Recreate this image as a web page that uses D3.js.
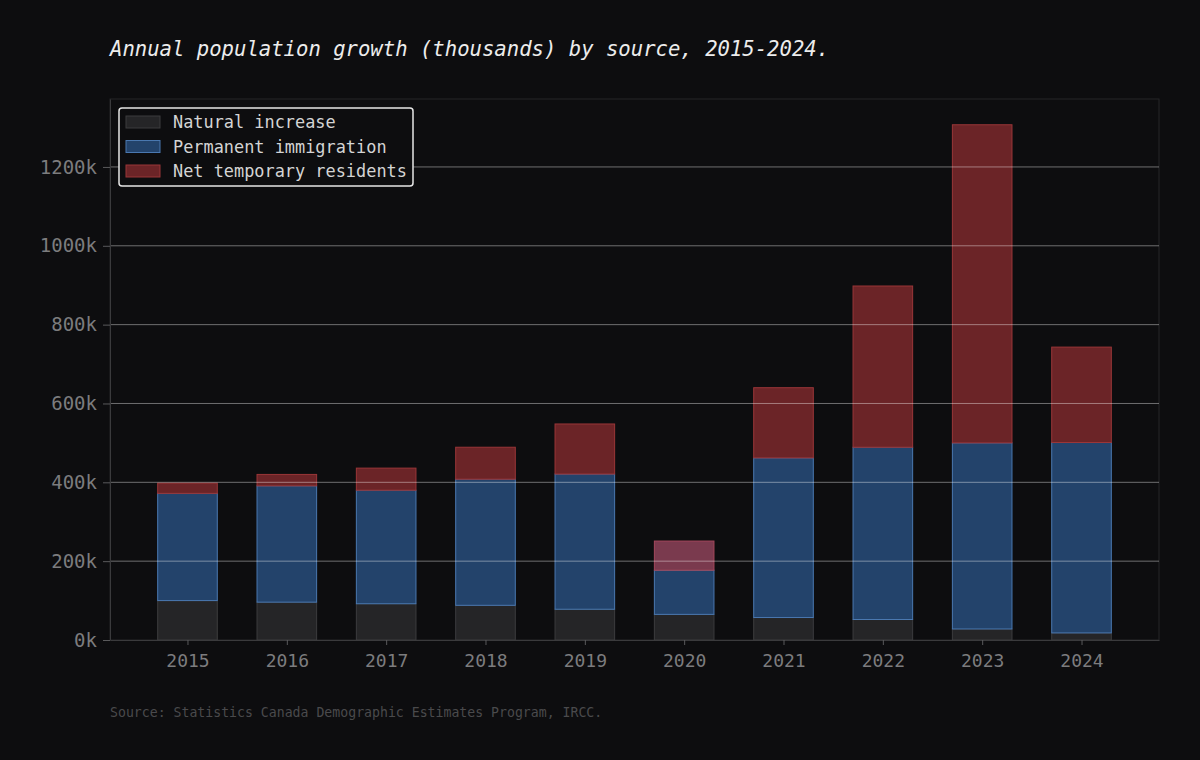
<!DOCTYPE html>
<html>
<head>
<meta charset="utf-8">
<script src="https://cdn.jsdelivr.net/npm/d3@7"></script>
<style>
  body { margin: 0; background: #0d0d0f; }
  svg { display: block; }
</style>
</head>
<body>
<svg id="chart" width="1200" height="760"></svg>
<script>
  var years = ["2015", "2016", "2017", "2018", "2019", "2020", "2021", "2022", "2023", "2024"];
  var naturalIncrease = [100, 96, 92, 88, 78, 65, 57, 52, 28, 18];
  var permanentImmigration = [272, 295, 288, 320, 343, 112, 405, 437, 472, 483];
  var netTemporary = [26, 29, 56, 81, 127, 74, 178, 409, 807, 242];
  var seriesNames = ["Natural increase", "Permanent immigration", "Net temporary residents"];
  var yTicks = [0, 200, 400, 600, 800, 1000, 1200];

  var fills = ["#252527", "#23436b", "#6b2427"];
  var edges = ["#3c3c3e", "#4a78b0", "#9a3638"];

  var svg = d3.select("#chart");
  var margin = { top: 99, right: 41, bottom: 120, left: 110 };
  var width = 1200 - margin.left - margin.right;
  var height = 760 - margin.top - margin.bottom;

  svg.append("rect").attr("width", 1200).attr("height", 760).attr("fill", "#0d0d0f");

  var rows = years.map(function (y, i) {
    return { year: y, a: naturalIncrease[i], b: permanentImmigration[i], c: netTemporary[i] };
  });
  var stack = d3.stack().keys(["a", "b", "c"])(rows);
  var maxTotal = d3.max(rows, function (d) { return d.a + d.b + d.c; });

  // matplotlib-like: bars of width 0.6 on integer positions, 5% margins
  var x = d3.scaleLinear().domain([-0.78, years.length - 1 + 0.78]).range([0, width]);
  var y = d3.scaleLinear().domain([0, maxTotal * 1.05]).range([height, 0]);
  var bw = x(0.6) - x(0);

  var g = svg.append("g").attr("transform", "translate(" + margin.left + "," + margin.top + ")");

  // frame
  g.append("rect").attr("width", width).attr("height", height)
    .attr("fill", "none").attr("stroke", "#262628").attr("stroke-width", 1);

  // bars
  stack.forEach(function (layer, k) {
    g.append("g").selectAll("rect")
      .data(layer)
      .enter().append("rect")
      .attr("x", function (d, i) { return x(i) - bw / 2; })
      .attr("y", function (d) { return y(d[1]); })
      .attr("width", bw)
      .attr("height", function (d) { return y(d[0]) - y(d[1]); })
      .attr("fill", function (d, i) { return (k === 2 && years[i] === "2020") ? "#7a3a4e" : fills[k]; })
      .attr("stroke", function (d, i) { return (k === 2 && years[i] === "2020") ? "#a4485c" : edges[k]; })
      .attr("stroke-width", 1);
  });

  // grid over bars
  g.append("g").selectAll("line")
    .data(yTicks.slice(1))
    .enter().append("line")
    .attr("x1", 0).attr("x2", width)
    .attr("y1", function (d) { return y(d); })
    .attr("y2", function (d) { return y(d); })
    .attr("stroke", "#ffffff").attr("stroke-opacity", 0.4).attr("stroke-width", 1);

  // axes
  var yAxis = d3.axisLeft(y).tickValues(yTicks)
    .tickFormat(function (d) { return d + "k"; }).tickSize(7).tickSizeOuter(0).tickPadding(6);
  var ya = g.append("g").call(yAxis);
  ya.select(".domain").attr("stroke", "#3a3a3c");
  ya.selectAll(".tick line").attr("stroke", "#5a5a5c");
  ya.selectAll("text").attr("fill", "#7c7c7e")
    .style("font-family", "DejaVu Sans Mono").style("font-size", "19px");

  var xAxis = d3.axisBottom(x).tickValues(d3.range(years.length))
    .tickFormat(function (i) { return years[i]; }).tickSize(5).tickSizeOuter(0).tickPadding(9);
  var xa = g.append("g").attr("transform", "translate(0," + height + ")").call(xAxis);
  xa.select(".domain").attr("stroke", "#3a3a3c");
  xa.selectAll(".tick line").attr("stroke", "#5a5a5c");
  xa.selectAll("text").attr("fill", "#7c7c7e")
    .style("font-family", "DejaVu Sans Mono").style("font-size", "18px");

  // legend
  var lg = svg.append("g").attr("transform", "translate(119,108)");
  lg.append("rect").attr("width", 294).attr("height", 78).attr("rx", 3)
    .attr("fill", "#0d0d0f").attr("stroke", "#e6e6e6").attr("stroke-width", 1.5);
  seriesNames.forEach(function (name, k) {
    var row = lg.append("g").attr("transform", "translate(7," + (8 + k * 24.5) + ")");
    row.append("rect").attr("width", 34).attr("height", 12)
      .attr("fill", fills[k]).attr("stroke", edges[k]);
    row.append("text").attr("x", 47).attr("y", 12)
      .attr("fill", "#d4d4d4")
      .style("font-family", "DejaVu Sans Mono").style("font-size", "16.9px")
      .text(name);
  });

  // title and source
  svg.append("text").attr("x", 110).attr("y", 56)
    .attr("fill", "#ececec")
    .style("font-family", "DejaVu Sans Mono").style("font-style", "italic").style("font-size", "20.6px")
    .text("Annual population growth (thousands) by source, 2015-2024.");

  svg.append("text").attr("x", 110).attr("y", 717)
    .attr("fill", "#4a4a4c")
    .style("font-family", "DejaVu Sans Mono").style("font-size", "13.2px")
    .text("Source: Statistics Canada Demographic Estimates Program, IRCC.");
</script>
</body>
</html>
